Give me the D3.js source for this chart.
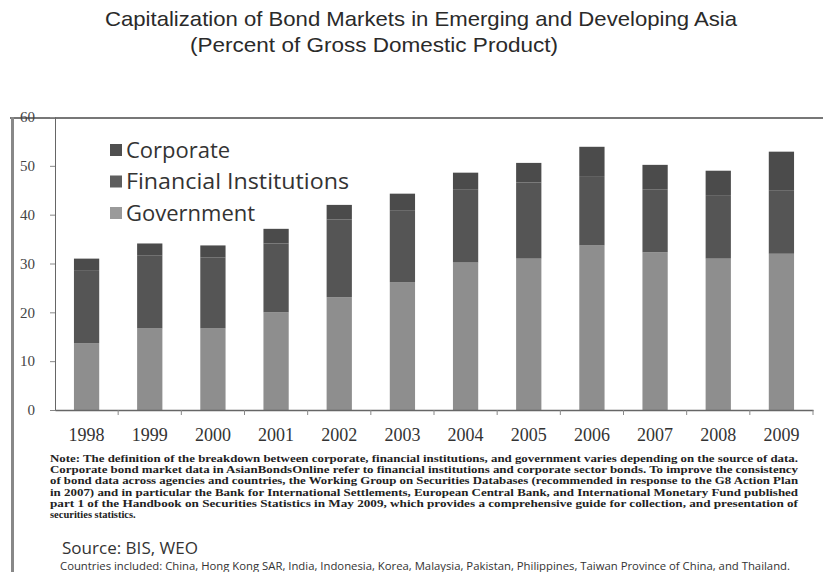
<!DOCTYPE html>
<html><head><meta charset="utf-8">
<script src="https://cdn.jsdelivr.net/npm/d3@7"></script>
<style>body{margin:0;background:#fff}svg{display:block}</style>
</head><body>
<svg id="c" width="823" height="572"></svg>
<script>
const years = ["1998","1999","2000","2001","2002","2003","2004","2005","2006","2007","2008","2009"];
const government = [13.7,16.7,16.7,20.0,23.1,26.2,30.2,31.0,33.7,32.3,31.0,32.0];
const financial = [14.8,14.9,14.5,14.1,15.9,14.6,14.9,15.6,14.2,12.9,13.0,12.9];
const corporate = [2.5,2.5,2.5,3.0,3.0,3.5,3.5,4.0,6.0,5.0,5.0,8.0];
const yTicks = [0,10,20,30,40,50,60];
const seriesNames = ["Government","Financial Institutions","Corporate"];
const legendNames = ["Corporate","Financial Institutions","Government"];
const noteLines = [
"Note: The definition of the breakdown between corporate, financial institutions, and government varies depending on the source of data.",
"Corporate bond market data in AsianBondsOnline refer to financial institutions and corporate sector bonds. To improve the consistency",
"of bond data across agencies and countries, the Working Group on Securities Databases (recommended in response to the G8 Action Plan",
"in 2007) and in particular the Bank for International Settlements, European Central Bank, and International Monetary Fund published",
"part 1 of the Handbook on Securities Statistics in May 2009, which provides a comprehensive guide for collection, and presentation of",
"securities statistics."
];

const colors = {"Government":"#8e8e8e","Financial Institutions":"#555555","Corporate":"#4b4b4b"};
const legendColors = {"Government":"#9a9a9a","Financial Institutions":"#5e5e5e","Corporate":"#4f4f4f"};

const svg = d3.select("#c");
const table = years.map((y,i)=>({year:y,"Government":government[i],"Financial Institutions":financial[i],"Corporate":corporate[i]}));

// title
svg.append("text").attr("x",105).attr("y",26)
  .attr("font-family","Liberation Sans, Arial, sans-serif").attr("font-size",21).attr("fill","#2a2a2a")
  .attr("textLength",632).attr("lengthAdjust","spacingAndGlyphs")
  .text("Capitalization of Bond Markets in Emerging and Developing Asia");
svg.append("text").attr("x",190).attr("y",52)
  .attr("font-family","Liberation Sans, Arial, sans-serif").attr("font-size",21).attr("fill","#2a2a2a")
  .attr("textLength",368).attr("lengthAdjust","spacingAndGlyphs")
  .text("(Percent of Gross Domestic Product)");

// frame
svg.append("line").attr("x1",10).attr("x2",823).attr("y1",118).attr("y2",118).attr("stroke","#777").attr("stroke-width",2);
svg.append("line").attr("x1",12.5).attr("x2",12.5).attr("y1",117).attr("y2",572).attr("stroke","#888").attr("stroke-width",3);

const x = d3.scaleBand().domain(years).range([55,813]).paddingInner(0.6).paddingOuter(0.3);
const y = d3.scaleLinear().domain([0,60]).range([410,117]);

const stack = d3.stack().keys(seriesNames)(table);
svg.append("g").selectAll("g").data(stack).join("g")
  .attr("fill",d=>colors[d.key])
  .selectAll("rect").data(d=>d).join("rect")
  .attr("x",d=>x(d.data.year)).attr("width",x.bandwidth())
  .attr("y",d=>y(d[1])).attr("height",d=>y(d[0])-y(d[1]));

// y axis
const ya = svg.append("g").attr("transform","translate(55,0)")
  .call(d3.axisLeft(y).tickValues(yTicks).tickSize(5).tickPadding(15));
ya.select(".domain").attr("stroke","#666");
ya.selectAll(".tick line").attr("stroke","#888");
ya.selectAll("text").attr("font-family","Liberation Serif, serif").attr("font-size",15).attr("fill","#444");

// x axis
const xa = svg.append("g").attr("transform","translate(0,410)")
  .call(d3.axisBottom(x).tickSize(0).tickPadding(18));
xa.select(".domain").attr("stroke","#666").attr("stroke-width",1.5);
xa.selectAll("text").attr("font-family","Liberation Serif, serif").attr("font-size",18).attr("fill","#333");
const step = x.step();
svg.append("g").selectAll("line").data(years).join("line")
  .attr("x1",d=>x(d)+x.bandwidth()/2+step/2).attr("x2",d=>x(d)+x.bandwidth()/2+step/2)
  .attr("y1",410).attr("y2",415).attr("stroke","#888");

// legend
const lg = svg.append("g");
legendNames.forEach((n,i)=>{
  const cy = 150 + i*31.5;
  lg.append("rect").attr("x",110).attr("y",cy-6).attr("width",12).attr("height",12).attr("fill",legendColors[n]);
  const t = lg.append("text").attr("x",126).attr("y",cy+7.5).attr("font-family","Open Sans, sans-serif")
    .attr("font-size",22).attr("fill","#333").text(n);
  if(n==="Financial Institutions") t.attr("textLength",223).attr("lengthAdjust","spacingAndGlyphs");
});

// notes
const ng = svg.append("g");
noteLines.forEach((t,i)=>{
  const tx = ng.append("text").attr("x",50).attr("y",462+i*11.2)
    .attr("font-family","Liberation Serif, serif").attr("font-size",10.5).attr("font-weight","bold")
    .attr("fill","#222").text(t);
  if(i<noteLines.length-1) tx.attr("textLength",748).attr("lengthAdjust","spacingAndGlyphs");
});

svg.append("text").attr("x",62).attr("y",554).attr("font-family","Open Sans, sans-serif")
  .attr("font-size",17).attr("fill","#333").attr("textLength",136).attr("lengthAdjust","spacingAndGlyphs")
  .text("Source: BIS, WEO");
svg.append("text").attr("x",60).attr("y",570).attr("font-family","Open Sans, sans-serif")
  .attr("font-size",10).attr("fill","#333").attr("textLength",730).attr("lengthAdjust","spacingAndGlyphs")
  .text("Countries included: China, Hong Kong SAR, India, Indonesia, Korea, Malaysia, Pakistan, Philippines, Taiwan Province of China, and Thailand.");
</script>
</body></html>
